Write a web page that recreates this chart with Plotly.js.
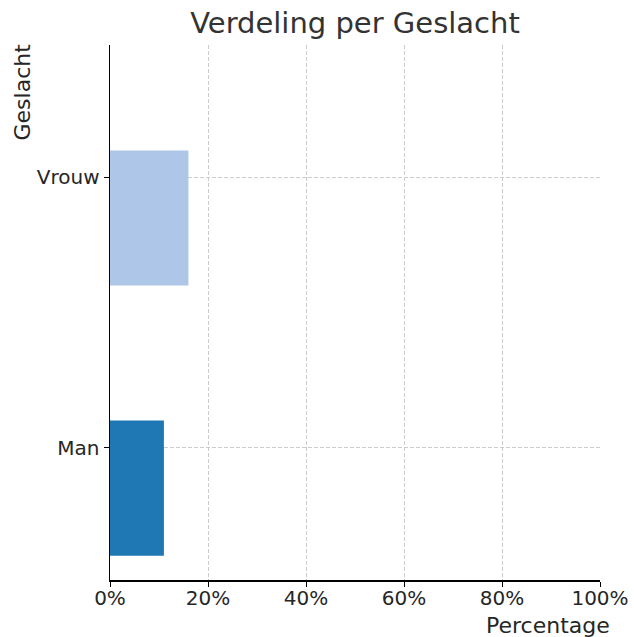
<!DOCTYPE html>
<html>
<head>
<meta charset="utf-8">
<script src="https://cdn.plot.ly/plotly-3.0.1.min.js"></script>
<style>html,body{margin:0;padding:0;background:#fff;}#chart{width:634px;height:637px;}</style>
</head>
<body>
<div id="chart"></div>
<script>
const categories = ["Man", "Vrouw"];
const percentages = [11, 16];
const barColors = ["#1f77b4", "#aec7e8"];
const xTickValues = [0, 20, 40, 60, 80, 100];
const xTickLabels = ["0%", "20%", "40%", "60%", "80%", "100%"];

const font = "DejaVu Sans, sans-serif";
const trace = {
  type: "bar",
  orientation: "h",
  y: categories,
  x: percentages,
  marker: {color: barColors, line: {width: 0}},
  width: 0.5,
  offset: -0.4,
  hoverinfo: "x+y"
};
const layout = {
  width: 634, height: 637,
  margin: {l: 110, r: 34, t: 45, b: 57},
  paper_bgcolor: "#fff", plot_bgcolor: "#fff",
  showlegend: false,
  font: {family: font, color: "#262626", size: 20},
  title: {text: "Verdeling per Geslacht", x: 355/634, xanchor: "center", y: 1 - 23/637, yanchor: "middle", font: {size: 29, family: font, color: "#333333"}},
  xaxis: {
    range: [0, 100], tickvals: xTickValues, ticktext: xTickLabels,
    showline: true, linecolor: "#000", linewidth: 1.5,
    ticks: "outside", ticklen: 5, tickcolor: "#000", tickwidth: 1,
    ticklabelstandoff: -6,
    showgrid: true, gridcolor: "#cccccc", griddash: "4px,2px", gridwidth: 1,
    zeroline: false, tickfont: {size: 20, color: "#262626"}
  },
  yaxis: {
    type: "category", range: [-0.49, 1.49],
    showline: true, linecolor: "#000", linewidth: 1.5,
    ticks: "outside", ticklen: 5, tickcolor: "#000", tickwidth: 1,
    showgrid: true, gridcolor: "#cccccc", griddash: "4px,2px", gridwidth: 1,
    zeroline: false, tickfont: {size: 20, color: "#262626"}
  },
  annotations: [
    {text: "Percentage", xref: "paper", yref: "paper", x: 1, y: 0, xanchor: "right", yanchor: "middle", xshift: 12, yshift: -45, showarrow: false, font: {size: 22, family: font, color: "#262626"}},
    {text: "Geslacht", xref: "paper", yref: "paper", x: 0, y: 1, xanchor: "center", yanchor: "top", xshift: -88, yshift: 3, textangle: -90, showarrow: false, font: {size: 22, family: font, color: "#262626"}}
  ]
};
Plotly.newPlot("chart", [trace], layout, {displayModeBar: false, staticPlot: true});
</script>
</body>
</html>
